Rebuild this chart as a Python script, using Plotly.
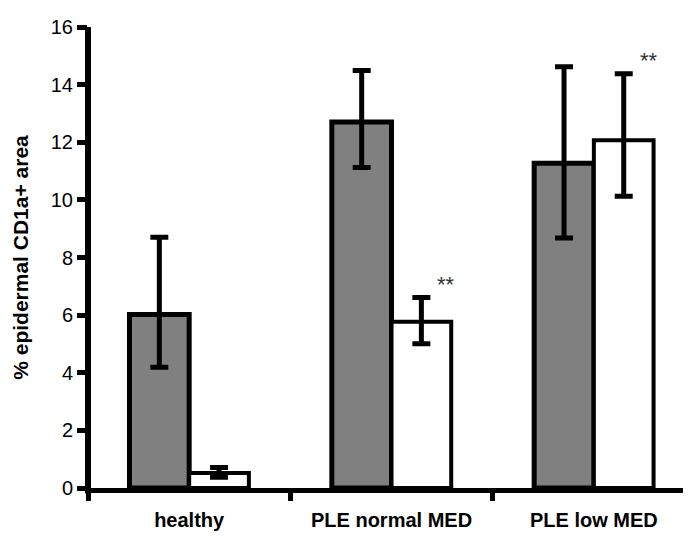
import plotly.graph_objects as go

categories = ["healthy", "PLE normal MED", "PLE low MED"]
gray_values = [6.02, 12.70, 11.27]
gray_err_plus = [2.68, 1.79, 3.35]
gray_err_minus = [1.83, 1.58, 2.59]
white_values = [0.52, 5.77, 12.07]
white_err_plus = [0.19, 0.84, 2.31]
white_err_minus = [0.15, 0.76, 1.94]
sig_labels = ["", "**", "**"]
y_ticks = [0, 2, 4, 6, 8, 10, 12, 14, 16]

FONT = "Liberation Sans, Arial"

fig = go.Figure()
fig.add_trace(go.Bar(
    x=categories, y=gray_values,
    marker=dict(color="#808080", line=dict(color="black", width=5)),
    error_y=dict(type="data", symmetric=False, array=gray_err_plus,
                 arrayminus=gray_err_minus, color="black", thickness=5, width=9),
    showlegend=False,
))
fig.add_trace(go.Bar(
    x=categories, y=white_values,
    marker=dict(color="white", line=dict(color="black", width=4)),
    error_y=dict(type="data", symmetric=False, array=white_err_plus,
                 arrayminus=white_err_minus, color="black", thickness=5, width=9),
    showlegend=False,
))

for i, lab in enumerate(sig_labels):
    if lab:
        fig.add_annotation(
            x=i + 0.27, y=white_values[i] + white_err_plus[i],
            text=lab, showarrow=False, yanchor="middle", yshift=13,
            font=dict(family=FONT, size=22, color="#333"),
        )

# y axis line drawn as a shape along the left plot edge
fig.add_shape(type="line", xref="paper", yref="paper",
              x0=0, x1=0, y0=-0.012, y1=1,
              line=dict(color="black", width=6), layer="above")

fig.update_layout(
    width=691, height=536,
    margin=dict(l=80, r=8, t=14, b=56),
    paper_bgcolor="white", plot_bgcolor="white",
    barmode="group", bargap=0.41, bargroupgap=0,
    font=dict(family=FONT, color="black"),
)
fig.update_xaxes(
    range=[-0.5, 2.48], showline=True, linecolor="black", linewidth=5,
    ticks="outside", tickson="boundaries", ticklen=8, tickwidth=5, tickcolor="black",
    tickfont=dict(size=20, family=FONT, weight="bold"), ticklabelstandoff=10,
    showgrid=False, zeroline=False,
)
fig.update_yaxes(
    range=[0, 16], tickvals=y_ticks, showline=False,
    ticks="outside", ticklen=10, tickwidth=5, tickcolor="black",
    tickfont=dict(size=20), showgrid=False, zeroline=False,
    title=dict(text="% epidermal CD1a+ area", font=dict(size=21, weight="bold"), standoff=16),
)

fig.write_html("out.html")
